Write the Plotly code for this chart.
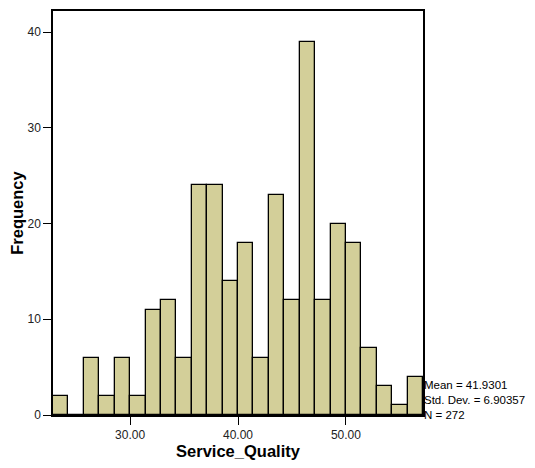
import plotly.graph_objects as go

# Histogram data (SPSS-style bins, width 10/7)
bin_start = 30 - 5 * 10 / 7
bin_width = 10 / 7
counts = [2, 0, 6, 2, 6, 2, 11, 12, 6, 24, 24, 14, 18, 6, 23, 12, 39, 12, 20, 18, 7, 3, 1, 4]
x_tick_vals = [30, 40, 50]
x_tick_text = ["30.00", "40.00", "50.00"]
y_tick_vals = [0, 10, 20, 30, 40]
stats_lines = ["Mean = 41.9301", "Std. Dev. = 6.90357", "N = 272"]

centers = [bin_start + bin_width * (i + 0.5) for i in range(len(counts))]
x_min = bin_start
x_max = bin_start + bin_width * len(counts)

fig = go.Figure()
fig.add_trace(go.Bar(
    x=centers, y=counts, width=[bin_width] * len(counts),
    marker=dict(color="#d3cf99", line=dict(color="#000000", width=1.3)),
    showlegend=False, hoverinfo="x+y",
))

# the page body adds an 8px offset, so the figure is sized to fit the window
fig.update_layout(
    width=527, height=452,
    margin=dict(l=45, r=112, t=3, b=45, autoexpand=False),
    paper_bgcolor="white", plot_bgcolor="white",
    font=dict(family="Liberation Sans, Arial, sans-serif", color="#000000", size=12),
    bargap=0,
)
fig.update_xaxes(
    range=[x_min, x_max], tickvals=x_tick_vals, ticktext=x_tick_text,
    showgrid=False, zeroline=False, automargin=False,
    showline=True, linecolor="#000000", linewidth=1.5, mirror=True,
    ticks="outside", ticklen=8, tickwidth=1.3, tickcolor="#000000",
    tickfont=dict(size=12, color="#222"),
    title=dict(text="<b>Service_Quality</b>", font=dict(size=16.5), standoff=6),
)
fig.update_yaxes(
    range=[0, 42.2], tickvals=y_tick_vals,
    showgrid=False, zeroline=False, automargin=False,
    showline=True, linecolor="#000000", linewidth=1.5, mirror=True,
    ticks="outside", ticklen=8, tickwidth=1.3, tickcolor="#000000",
    tickfont=dict(size=12, color="#222"),
    title=dict(text="<b>Frequency</b>", font=dict(size=16.5), standoff=3),
)

fig.add_annotation(
    xref="paper", yref="paper", x=1.0, y=0.0,
    xanchor="left", yanchor="bottom", xshift=-1, yshift=-8,
    text="<br>".join(stats_lines), showarrow=False, align="left",
    font=dict(size=11.5, color="#000000"),
)

fig.write_html("out.html")
